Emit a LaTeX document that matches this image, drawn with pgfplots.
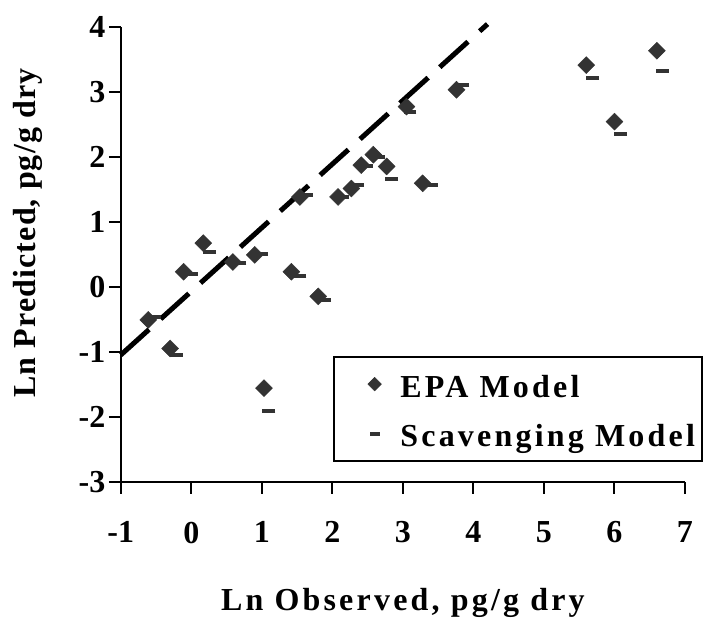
\documentclass[border=0pt]{standalone}
\usepackage{fontspec}
\setmainfont[LetterSpace=10]{Liberation Serif}
\newfontfamily\ylabfont[LetterSpace=3.5]{Liberation Serif}
\newfontfamily\tickfont{Liberation Serif}
\usepackage{pgfplots}
\pgfplotsset{compat=1.18}
\definecolor{mk}{HTML}{333333}
\pgfplotstableread{
x y
-0.61 -0.51
-0.30 -0.95
-0.11 0.23
0.17 0.67
0.59 0.38
0.90 0.49
1.03 -1.56
1.42 0.23
1.54 1.38
1.80 -0.15
2.08 1.38
2.27 1.51
2.41 1.87
2.58 2.03
2.77 1.85
3.05 2.77
3.28 1.59
3.76 3.03
5.60 3.41
6.00 2.54
6.60 3.63
}\epa
\pgfplotstableread{
x y
-0.52 -0.46
-0.21 -1.05
0.00 0.20
0.26 0.54
0.69 0.36
1.00 0.51
1.10 -1.91
1.54 0.16
1.63 1.41
1.89 -0.20
2.15 1.38
2.36 1.56
2.48 1.85
2.65 2.00
2.84 1.65
3.10 2.69
3.40 1.56
3.85 3.10
5.69 3.21
6.09 2.35
6.68 3.32
}\scv
\begin{document}
\begin{tikzpicture}[x=1pt,y=1pt]
\useasboundingbox (0,0) rectangle (356,309.5);
\begin{axis}[
  at={(60.4pt,68.65pt)}, anchor=south west,
  width=282.1pt, height=227.5pt, scale only axis,
  xmin=-1, xmax=7, ymin=-3, ymax=4,
  clip=false,
  axis x line=bottom, axis y line=left,
  axis line style={-, line width=1pt, black},
  tick align=outside, major tick length=6pt,
  tick style={line width=1pt, black},
  xtick={-1,0,1,2,3,4,5,6,7},
  xticklabels={-1,0,1,2,3,4,5,6,7},
  ytick={-3,-2,-1,0,1,2,3,4},
  yticklabels={-3,-2,-1,0,1,2,3,4},
  ticklabel style={font=\tickfont\bfseries\fontsize{16}{19}\selectfont},
  xticklabel style={yshift=-10.5pt},
  yticklabel style={xshift=1.8pt},
  xlabel={Ln Observed, pg/g dry},
  ylabel={Ln Predicted, pg/g dry},
  label style={font=\bfseries\fontsize{16}{19}\selectfont},
  xlabel style={at={(axis description cs:0.5,0)}, anchor=base, yshift=-64.2pt},
  ylabel style={at={(axis description cs:-0.1507,0.5466)}, anchor=base, font=\ylabfont\bfseries\fontsize{16}{19}\selectfont},
  legend cell align=left,
  legend style={at={(axis description cs:0.3766,0.276)}, anchor=north west,
    draw=black, line width=0.7pt, fill=white,
    inner xsep=3.5pt, inner ysep=3.6pt,
    font=\bfseries\fontsize{16}{19}\selectfont,
    nodes={inner xsep=0pt, inner ysep=0pt, text height=16.6pt, text depth=3.5pt},
    column sep=0pt, row sep=4.6pt},
  legend image code/.code={%
    \path (-16.5pt,0pt) (12.5pt,0pt);
    \draw[#1, every mark/.append style={scale=0.8}] plot coordinates {(0pt,0pt)};},
]
\addplot[forget plot, black, line width=2.5pt, dash pattern=on 19pt off 7.85pt]
  coordinates {(-1,-1.05) (4.2,4.04)};
\addplot[only marks, mark=square*, mark size=3pt,
  mark options={rotate=45, fill=mk, draw=mk, line width=0.2pt}] table {\epa};
\addlegendentry{EPA Model}
\addplot[only marks, mark=-, mark size=3.2pt,
  mark options={line width=2pt, draw=mk}] table {\scv};
\addlegendentry{Scavenging Model}
\end{axis}
\end{tikzpicture}
\end{document}
